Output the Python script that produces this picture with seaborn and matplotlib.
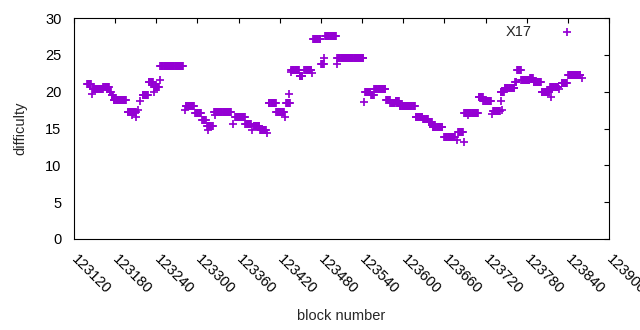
import numpy as np
import pandas as pd
import matplotlib
matplotlib.use("Agg")
import matplotlib.pyplot as plt
import seaborn as sns

# Difficulty plateaus: first block, last block, difficulty
run_start = [123139, 123147, 123163, 123172, 123175, 123178, 123198, 123220,
             123229, 123237, 123246, 123283, 123297, 123307, 123314, 123324,
             123355, 123370, 123382, 123391, 123404, 123415, 123429, 123437,
             123449, 123456, 123469, 123480, 123486, 123504, 123544, 123553,
             123558, 123575, 123581, 123589, 123595, 123618, 123629, 123637,
             123643, 123660, 123680, 123689, 123710, 123717, 123731, 123742,
             123748, 123763, 123766, 123772, 123785, 123790, 123802, 123814,
             123831, 123840]
run_end = [123145, 123162, 123171, 123174, 123177, 123196, 123210, 123228,
           123235, 123244, 123279, 123295, 123305, 123312, 123322, 123349,
           123369, 123378, 123390, 123400, 123414, 123426, 123435, 123448,
           123453, 123466, 123479, 123484, 123502, 123542, 123552, 123557,
           123574, 123580, 123588, 123594, 123617, 123628, 123636, 123642,
           123657, 123675, 123687, 123709, 123716, 123728, 123741, 123747,
           123762, 123765, 123771, 123784, 123789, 123801, 123813, 123826,
           123839, 123858]
run_diff = [21.0, 20.4, 20.6, 20.0, 19.6, 18.9, 17.2, 19.6,
            21.3, 20.7, 23.5, 18.1, 17.1, 16.1, 15.3, 17.3,
            16.5, 15.6, 15.4, 14.8, 18.5, 17.2, 18.4, 22.9,
            22.1, 23.0, 27.1, 23.8, 27.6, 24.6, 19.9, 19.5,
            20.35, 18.9, 18.4, 18.7, 18.1, 16.6, 16.3, 15.9,
            15.15, 13.8, 14.5, 17.05, 19.3, 18.7, 17.4, 19.9,
            20.45, 21.3, 22.9, 21.6, 21.9, 21.3, 19.95, 20.6,
            21.2, 22.3]

# Isolated blocks
single_block = [123146, 123205, 123211, 123214, 123216, 123236, 123245, 123282,
                123315, 123326, 123352, 123380, 123402, 123427, 123434, 123436,
                123467, 123485, 123503, 123543, 123678, 123688, 123695, 123729,
                123743, 123744, 123815, 123827, 123860]
single_diff = [19.7, 16.9, 16.5, 17.5, 18.8, 20.0, 21.6, 17.5,
               14.8, 16.9, 15.6, 14.8, 14.4, 16.55, 19.7, 22.7,
               22.5, 24.6, 23.8, 18.6, 13.4, 13.2, 16.8, 17.0,
               18.7, 17.5, 19.3, 20.4, 21.8]

blocks, diffs = [], []
for s, e, d in zip(run_start, run_end, run_diff):
    for b in range(s, e + 1):
        blocks.append(b)
        diffs.append(d)
blocks += single_block
diffs += single_diff
df = pd.DataFrame({"block number": blocks, "difficulty": diffs}).sort_values("block number")

sns.set_style("white")
plt.rcParams["font.family"] = ["Liberation Sans", "DejaVu Sans"]
plt.rcParams["font.size"] = 10.5

fig = plt.figure(figsize=(6.4, 3.3), dpi=100)
ax = fig.add_axes([74 / 640, 1 - 239 / 330, 535 / 640, 221 / 330])

sns.scatterplot(data=df, x="block number", y="difficulty", marker="+",
                color="#9400d3", s=38, linewidth=1.25, label="X17", ax=ax)

ax.set_xlim(123120, 123900)
ax.set_ylim(0, 30)
ax.set_xticks(np.arange(123120, 123901, 60))
ax.set_yticks(np.arange(0, 31, 5))
ax.tick_params(direction="in", top=True, right=True, length=3.3, width=0.8,
               colors="black", labelsize=10.5)
ax.tick_params(axis="y", pad=9)
ax.tick_params(axis="x", pad=13)
for lab in ax.get_xticklabels():
    lab.set_rotation(-45)
    lab.set_ha("left")
    lab.set_va("center")
    lab.set_rotation_mode("anchor")
for sp in ax.spines.values():
    sp.set_color("black")
    sp.set_linewidth(0.8)

ax.set_xlabel("block number", fontsize=10.5)
ax.set_ylabel("difficulty", fontsize=10.5)
ax.xaxis.set_label_coords(0.5, -0.318)
ax.yaxis.set_label_coords(-0.088, 0.5)

ax.legend(loc="upper right", frameon=False, markerfirst=False,
          bbox_to_anchor=(0.948, 0.968), borderaxespad=0, borderpad=0,
          handlelength=2, handletextpad=1.4, fontsize=10.5)

fig.savefig("out.png", dpi=100)
